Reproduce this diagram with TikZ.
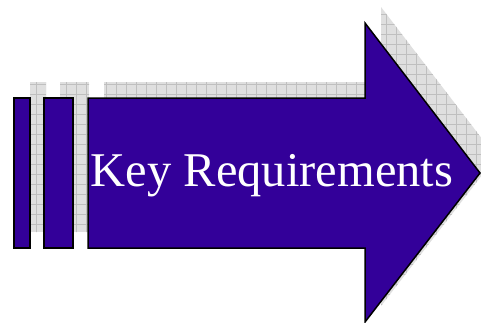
\documentclass[tikz,border=0pt]{standalone}
\usepackage{fontspec}
\setmainfont{Liberation Serif}
\usepackage{tikz}

\definecolor{arrowblue}{HTML}{330099}
\tikzset{
  arrowpart/.style={fill=arrowblue, draw=black, line width=1.5pt, line join=miter},
  shadowpart/.style={fill=gray!25},
  shadowgrid/.style={draw=gray!50, line width=0.6pt}
}
\newcommand{\barone}{(14,98) rectangle (30,248)}
\newcommand{\bartwo}{(44,98) rectangle (73,248)}
\newcommand{\bigarrow}{(88,98) -- (365,98) -- (365,23) -- (480,173) -- (365,322) -- (365,248) -- (88,248) -- cycle}

\begin{document}
\begin{tikzpicture}[x=1pt, y=-1pt]
                    \useasboundingbox (0,0) rectangle (481,322);
                    % Shadow
                    \begin{scope}[shift={(16,-16)}]
                        \fill[shadowpart] \barone;
                        \fill[shadowpart] \bartwo;
                        \fill[shadowpart] \bigarrow;
                        \begin{scope}
                            \clip \barone \bartwo \bigarrow;
                            \draw[shadowgrid, step=10pt] (0,0) grid (500,340);
                        \end{scope}
                    \end{scope}
                    % Arrow
                    \draw[arrowpart] \barone;
                    \draw[arrowpart] \bartwo;
                    \draw[arrowpart] \bigarrow;
                    % Label
                    \node[text=white, font=\fontsize{48.5}{52}\selectfont, anchor=base] (label) at (272,186) {Key Requirements};
                \end{tikzpicture}
\end{document}
